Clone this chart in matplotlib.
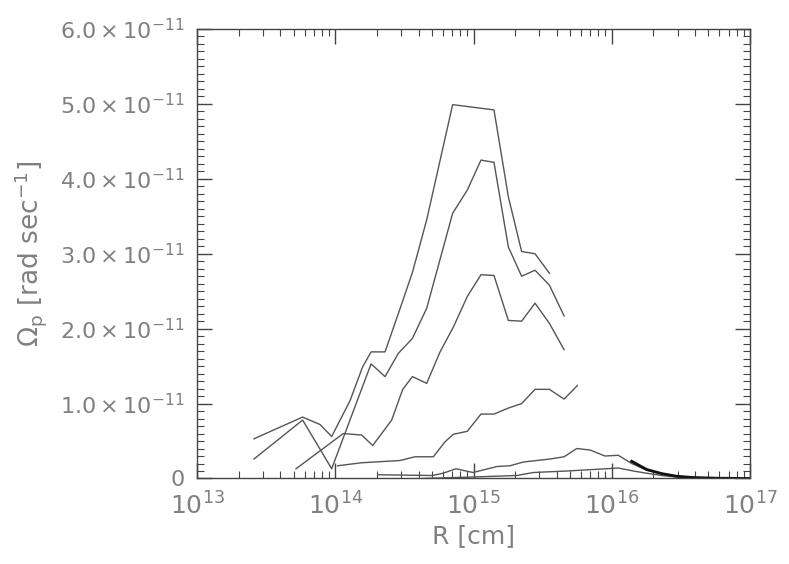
import numpy as np
import matplotlib
matplotlib.use("Agg")
import matplotlib.pyplot as plt
from matplotlib.ticker import FixedLocator, LogLocator, NullFormatter

# log10(R [cm]) and Omega_p in units of 1e-11 rad/s
logr_a = [13.412, 13.764, 13.890, 13.974, 14.107, 14.198, 14.259, 14.360, 14.456,
          14.558, 14.661, 14.849, 15.148, 15.252, 15.348, 15.445, 15.549]
om_a = [0.53, 0.82, 0.72, 0.56, 1.04, 1.49, 1.69, 1.69, 2.20,
        2.75, 3.45, 4.99, 4.92, 3.76, 3.03, 3.00, 2.74]

logr_b = [13.412, 13.764, 13.974, 14.259, 14.360, 14.456, 14.558, 14.661, 14.849,
          14.955, 15.054, 15.148, 15.252, 15.348, 15.445, 15.549, 15.655]
om_b = [0.26, 0.78, 0.13, 1.53, 1.36, 1.67, 1.87, 2.27, 3.54,
        3.85, 4.25, 4.22, 3.09, 2.70, 2.78, 2.58, 2.17]

logr_c = [13.716, 14.058, 14.191, 14.271, 14.408, 14.488, 14.558, 14.661, 14.758,
          14.854, 14.955, 15.054, 15.148, 15.252, 15.348, 15.445, 15.549, 15.655]
om_c = [0.13, 0.60, 0.58, 0.44, 0.78, 1.19, 1.36, 1.27, 1.69,
        2.02, 2.43, 2.72, 2.71, 2.11, 2.10, 2.34, 2.07, 1.72]

logr_d = [14.017, 14.191, 14.468, 14.577, 14.709, 14.794, 14.854, 14.955, 15.054,
          15.148, 15.252, 15.348, 15.445, 15.549, 15.655, 15.751]
om_d = [0.17, 0.21, 0.24, 0.29, 0.29, 0.49, 0.59, 0.63, 0.86,
        0.86, 0.94, 1.00, 1.19, 1.19, 1.06, 1.24]

logr_e = [14.309, 14.700, 14.779, 14.873, 14.996, 15.170, 15.264, 15.360, 15.457,
          15.553, 15.655, 15.747, 15.843, 15.951, 16.047, 16.144, 16.253, 16.362,
          16.470, 16.590, 16.759, 17.0]
om_e = [0.05, 0.04, 0.07, 0.13, 0.08, 0.16, 0.17, 0.22, 0.24,
        0.26, 0.29, 0.40, 0.38, 0.30, 0.31, 0.20, 0.11, 0.06,
        0.03, 0.013, 0.004, 0.0]

logr_f = [14.628, 14.996, 15.313, 15.433, 15.674, 15.867, 16.047, 16.156, 16.253,
          16.362, 16.470, 16.590, 16.759, 17.0]
om_f = [0.0, 0.02, 0.04, 0.08, 0.10, 0.12, 0.14, 0.10, 0.07,
        0.04, 0.02, 0.01, 0.003, 0.0]

# dark outer tail
logr_g = [16.144, 16.253, 16.362, 16.470, 16.590, 16.759, 17.0]
om_g = [0.23, 0.12, 0.065, 0.03, 0.013, 0.004, 0.0]

yticks = [0, 1, 2, 3, 4, 5, 6]
ylabels = ['0', r'$1.0\times10^{-11}$', r'$2.0\times10^{-11}$', r'$3.0\times10^{-11}$',
           r'$4.0\times10^{-11}$', r'$5.0\times10^{-11}$', r'$6.0\times10^{-11}$']

fig = plt.figure(figsize=(7.89, 5.64), dpi=100)
ax = fig.add_axes([0.2497, 0.1516, 0.7009, 0.797])

gray = '#555555'
for lr, om in [(logr_a, om_a), (logr_b, om_b), (logr_c, om_c),
               (logr_d, om_d), (logr_e, om_e), (logr_f, om_f)]:
    ax.plot(10 ** np.array(lr), np.array(om) * 1e-11, color=gray, lw=1.0)
ax.plot(10 ** np.array(logr_g), np.array(om_g) * 1e-11, color='#111111', lw=2.0)

ax.set_xscale('log')
ax.set_xlim(1e13, 1e17)
ax.set_ylim(0, 6e-11)

ax.yaxis.set_major_locator(FixedLocator([v * 1e-11 for v in yticks]))
ax.set_yticklabels(ylabels)
ax.yaxis.set_minor_locator(FixedLocator(np.arange(0, 61) * 1e-12))
ax.xaxis.set_minor_locator(LogLocator(base=10, subs=np.arange(2, 10)))
ax.xaxis.set_minor_formatter(NullFormatter())

txt = '#808080'
ax.tick_params(which='both', direction='in', top=True, right=True,
               color='#444444', labelcolor=txt)
ax.tick_params(which='major', length=11, width=1)
ax.tick_params(which='minor', length=5, width=0.8)
ax.tick_params(axis='y', which='major', labelsize=16, pad=9)
ax.tick_params(axis='x', which='major', labelsize=18, pad=10)
for s in ax.spines.values():
    s.set_color('#444444')
    s.set_linewidth(1)

ax.set_xlabel('R [cm]', color=txt, fontsize=18, labelpad=3)
ax.set_ylabel(r'$\Omega_{\rm p}$ [rad sec$^{-1}$]', color=txt, fontsize=19, labelpad=8)

fig.savefig('out.png', dpi=100)
